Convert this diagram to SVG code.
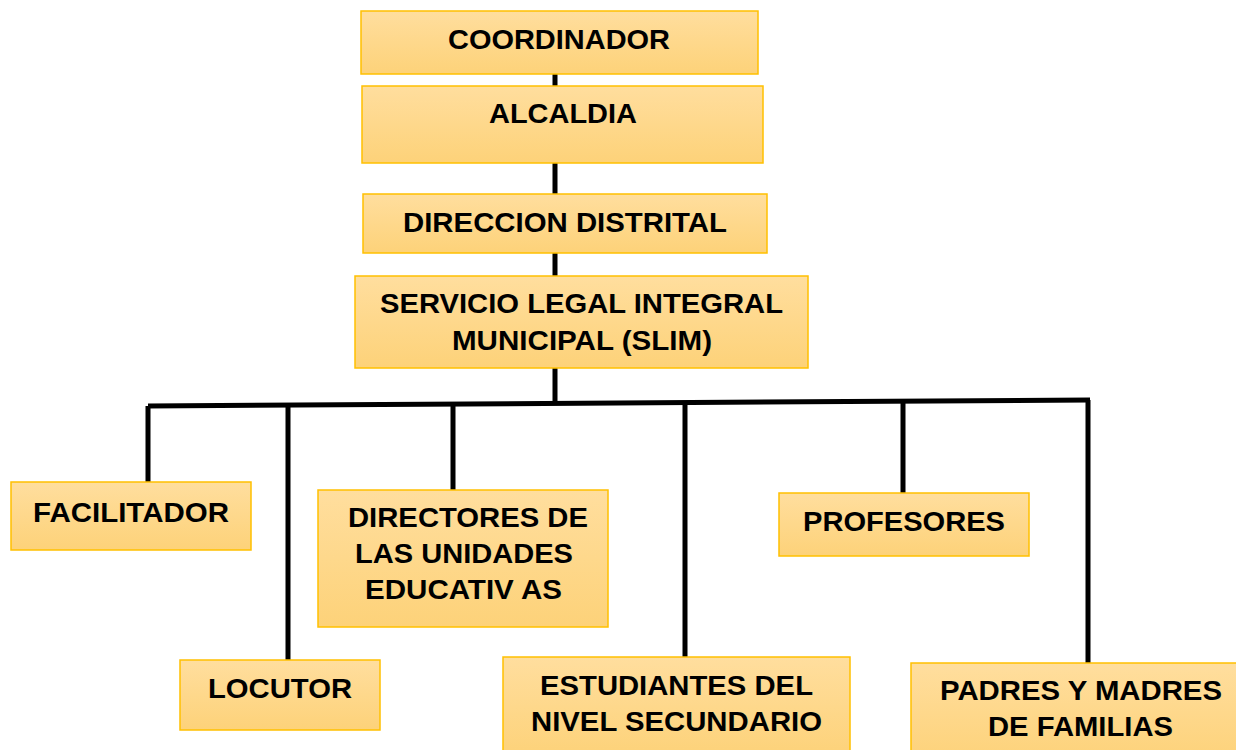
<svg xmlns="http://www.w3.org/2000/svg" width="1236" height="750" viewBox="0 0 1236 750">
<defs>
<linearGradient id="g" x1="0" y1="0" x2="0" y2="1">
<stop offset="0" stop-color="#FFDE9E"/>
<stop offset="1" stop-color="#FDD279"/>
</linearGradient>
<style>
.box{fill:url(#g);stroke:#FFC000;stroke-width:1.5}
.t{font-family:"Liberation Sans",Arial,sans-serif;font-weight:bold;font-size:28px;fill:#000}
.c{stroke:#000;stroke-width:5;fill:none}
</style>
</defs>
<rect width="1236" height="750" fill="#fff"/>
<g id="connectors">
<path class="c" d="M555 74V86M555 163V194M555 253V276M555 368V403"/>
<path class="c" d="M148 406L1090 400"/>
<path class="c" d="M148 406V482M288 405V660M453 404V490M685 403V657M903 402V493M1088 400V663"/>
</g>
<g id="coordinador"><rect class="box" x="361" y="11" width="397" height="63"/><text class="t" x="448" y="49" textLength="222" lengthAdjust="spacingAndGlyphs">COORDINADOR</text></g>
<g id="alcaldia"><rect class="box" x="362" y="86" width="401" height="77"/><text class="t" x="489" y="123" textLength="148" lengthAdjust="spacingAndGlyphs">ALCALDIA</text></g>
<g id="direccion"><rect class="box" x="363" y="194" width="404" height="59"/><text class="t" x="403" y="232" textLength="324" lengthAdjust="spacingAndGlyphs">DIRECCION DISTRITAL</text></g>
<g id="slim"><rect class="box" x="355" y="276" width="453" height="92"/><text class="t" x="380" y="313" textLength="403" lengthAdjust="spacingAndGlyphs">SERVICIO LEGAL INTEGRAL</text><text class="t" x="452" y="350" textLength="260" lengthAdjust="spacingAndGlyphs">MUNICIPAL (SLIM)</text></g>
<g id="facilitador"><rect class="box" x="11" y="482" width="240" height="68"/><text class="t" x="33" y="522" textLength="196" lengthAdjust="spacingAndGlyphs">FACILITADOR</text></g>
<g id="directores"><rect class="box" x="318" y="490" width="290" height="137"/><text class="t" x="348" y="527" textLength="240" lengthAdjust="spacingAndGlyphs">DIRECTORES DE</text><text class="t" x="355" y="563" textLength="218" lengthAdjust="spacingAndGlyphs">LAS UNIDADES</text><text class="t" x="365" y="599" textLength="197" lengthAdjust="spacingAndGlyphs">EDUCATIV AS</text></g>
<g id="profesores"><rect class="box" x="779" y="493" width="250" height="63"/><text class="t" x="803" y="531" textLength="202" lengthAdjust="spacingAndGlyphs">PROFESORES</text></g>
<g id="locutor"><rect class="box" x="180" y="660" width="200" height="70"/><text class="t" x="208" y="698" textLength="144" lengthAdjust="spacingAndGlyphs">LOCUTOR</text></g>
<g id="estudiantes"><rect class="box" x="503" y="657" width="347" height="100"/><text class="t" x="540" y="695" textLength="273" lengthAdjust="spacingAndGlyphs">ESTUDIANTES DEL</text><text class="t" x="531" y="731" textLength="291" lengthAdjust="spacingAndGlyphs">NIVEL SECUNDARIO</text></g>
<g id="padres"><rect class="box" x="911" y="663" width="335" height="100"/><text class="t" x="940" y="700" textLength="282" lengthAdjust="spacingAndGlyphs">PADRES Y MADRES</text><text class="t" x="988" y="736" textLength="185" lengthAdjust="spacingAndGlyphs">DE FAMILIAS</text></g>
</svg>
